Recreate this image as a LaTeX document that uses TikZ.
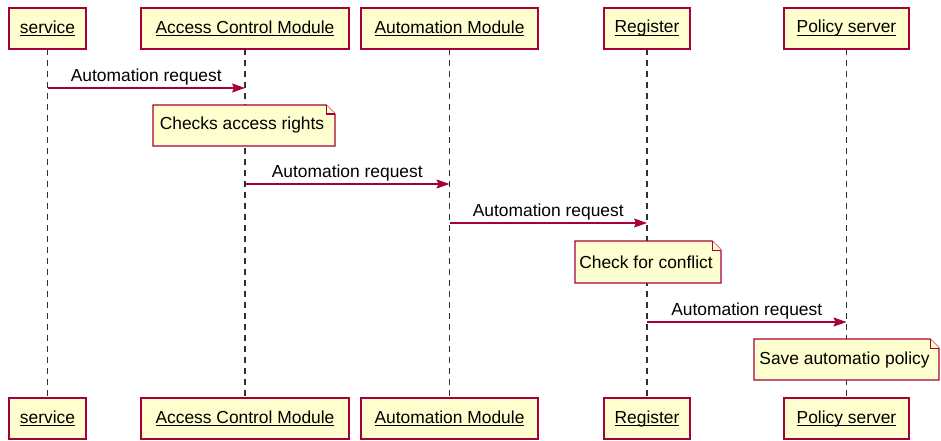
\documentclass[tikz,border=0pt]{standalone}
\usepackage{fontspec}
\setmainfont{Liberation Sans}
\usetikzlibrary{arrows.meta}

\definecolor{boxfill}{HTML}{FEFECE}
\definecolor{boxline}{HTML}{A80036}
\definecolor{lifegray}{HTML}{303030}

% underline at a fixed depth below the baseline
\newcommand{\ulname}[1]{\setbox0\hbox{#1}\rlap{\rule[-2.6pt]{\wd0}{1pt}}\box0}

\tikzset{
  x=1pt, y=-1pt,
  actorbox/.style={draw=boxline, fill=boxfill, line width=1.4pt, minimum height=41pt,
    inner sep=0pt, font=\fontsize{17.4}{19}\selectfont},
  lifeline/.style={draw=lifegray, line width=1.5pt, dash pattern=on 6pt off 5pt},
  msg/.style={draw=boxline, line width=1.2pt,
    -{Stealth[length=13pt,width=9pt,inset=2pt]}},
  msglabel/.style={font=\fontsize{17.4}{19}\selectfont, anchor=south, inner sep=2pt},
  notetext/.style={font=\fontsize{17.4}{19}\selectfont, inner sep=0pt},
}

% note with a folded top-right corner: \notebox{name}{x1}{y1}{x2}{y2}{text}
\newcommand{\notebox}[6]{%
  \draw[draw=boxline, fill=boxfill, line width=1.2pt]
    (#2,#3) -- (#4-9,#3) -- (#4,#3+9) -- (#4,#5) -- (#2,#5) -- cycle;
  \draw[draw=boxline, line width=1pt, fill=boxfill]
    (#4-9,#3) -- (#4-9,#3+9) -- (#4,#3+9);
  \node[notetext] (#1) at ({(#2+#4)/2-2},{(#3+#5)/2}) {#6};
}

\begin{document}
\begin{tikzpicture}
\useasboundingbox (0,0) rectangle (941,441);

% lifelines drawn first, behind everything
\foreach \x in {47.5,245,449.5,647,846.5}
  \draw[lifeline] (\x,49) -- (\x,398);

% participants, top row
\node[actorbox, minimum width=77pt]  (s1) at (47.5,28.5)  {\ulname{service}};
\node[actorbox, minimum width=208pt] (a1) at (245,28.5)   {\ulname{Access Control Module}};
\node[actorbox, minimum width=177pt] (m1) at (449.5,28.5) {\ulname{Automation Module}};
\node[actorbox, minimum width=86pt]  (r1) at (647,28.5)   {\ulname{Register}};
\node[actorbox, minimum width=125pt] (p1) at (846.5,28.5) {\ulname{Policy server}};

% participants, bottom row
\node[actorbox, minimum width=77pt]  (s2) at (47.5,418.5)  {\ulname{service}};
\node[actorbox, minimum width=208pt] (a2) at (245,418.5)   {\ulname{Access Control Module}};
\node[actorbox, minimum width=177pt] (m2) at (449.5,418.5) {\ulname{Automation Module}};
\node[actorbox, minimum width=86pt]  (r2) at (647,418.5)   {\ulname{Register}};
\node[actorbox, minimum width=125pt] (p2) at (846.5,418.5) {\ulname{Policy server}};

% message anchor points on the lifelines
\coordinate (m1s) at (47.5,88);   \coordinate (m1e) at (245,88);
\coordinate (m2s) at (245,184);   \coordinate (m2e) at (449.5,184);
\coordinate (m3s) at (449.5,223); \coordinate (m3e) at (647,223);
\coordinate (m4s) at (647,322);   \coordinate (m4e) at (846.5,322);

% messages
\draw[msg] (m1s) -- node[msglabel, pos=0.5] {Automation request} (m1e);
\draw[msg] (m2s) -- node[msglabel, pos=0.5] {Automation request} (m2e);
\draw[msg] (m3s) -- node[msglabel, pos=0.5] {Automation request} (m3e);
\draw[msg] (m4s) -- node[msglabel, pos=0.5] {Automation request} (m4e);

% notes
\notebox{n1}{153}{105}{335}{146}{Checks access rights}
\notebox{n2}{575}{241}{721}{283}{Check for conflict}
\notebox{n3}{754}{339}{939}{380}{Save automatio policy}
\end{tikzpicture}
\end{document}
